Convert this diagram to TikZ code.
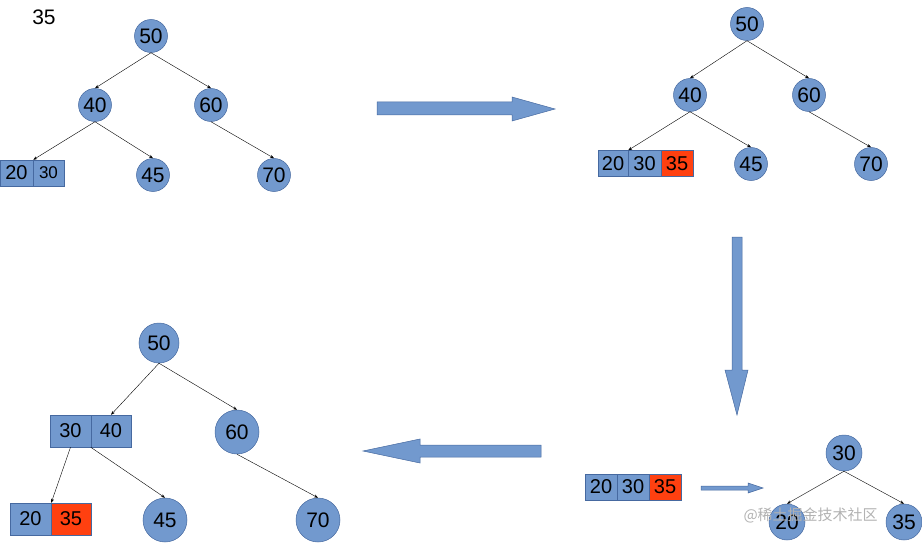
\documentclass[tikz,border=0pt]{standalone}
\usepackage{fontspec}
\setmainfont{Liberation Sans}
\newfontfamily\cjkf{Noto Sans CJK SC}
\usetikzlibrary{arrows.meta}
\definecolor{nb}{RGB}{114,153,206}
\definecolor{nbd}{RGB}{70,105,160}
\definecolor{nr}{RGB}{255,64,16}
\begin{document}
\begin{tikzpicture}[x=1pt,y=-1pt,
 c/.style={circle,fill=nb,draw=nbd,line width=0.5pt,inner sep=0pt,minimum size=#1,font=\fontsize{21}{21}\selectfont},
 c/.default=33pt,
 cell/.style={rectangle,fill=nb,draw=nbd,line width=0.5pt,inner sep=0pt,minimum width=#1,minimum height=26pt,font=\fontsize{20}{20}\selectfont},
 rc/.style={cell=#1,fill=nr},
 e/.style={draw=black,line width=0.4pt,-{Stealth[length=4pt,width=3pt]}},
 big/.style={fill=nb,draw=nbd,line width=0.5pt}]
\useasboundingbox (0,0) rectangle (922,543);
% top-left
\node[font=\fontsize{21}{21}\selectfont] (t) at (44,17) {35};
\node[c] (a50) at (151,36) {50};
\node[c] (a40) at (95,105) {40};
\node[c] (a60) at (211,105) {60};
\node[cell=33pt] (a20) at (16.5,173) {20};
\node[cell=31pt,font=\fontsize{17}{17}\selectfont] (a30) at (48.5,173) {30};
\node[c] (a45) at (153,175) {45};
\node[c] (a70) at (274,175) {70};
\draw[e] (a50.south) -- (a40.north); \draw[e] (a50.south) -- (a60.north);
\draw[e] (a40.south) -- (a20.north east); \draw[e] (a40.south) -- (a45.north);
\draw[e] (a60.south) -- (a70.north);
% arrow right
\draw[big] (377,102) -- (512,102) -- (512,97) -- (555,109) -- (512,121) -- (512,115) -- (377,115) -- cycle;
% top-right
\node[c] (b50) at (747,24) {50};
\node[c] (b40) at (690,95) {40};
\node[c] (b60) at (809,95) {60};
\node[cell=30pt] (b20) at (613,163.5) {20};
\node[cell=33pt] (b30) at (644.5,163.5) {30};
\node[rc=32pt] (b35) at (677,163.5) {35};
\node[c] (b45) at (751,164) {45};
\node[c] (b70) at (871,164) {70};
\draw[e] (b50.south) -- (b40.north); \draw[e] (b50.south) -- (b60.north);
\draw[e] (b40.south) -- (b20.north east); \draw[e] (b40.south) -- (b45.north);
\draw[e] (b60.south) -- (b70.north);
% down arrow
\draw[big] (732,237) -- (742,237) -- (742,370) -- (748,370) -- (737,415) -- (725,370) -- (732,370) -- cycle;
% bottom-right
\node[cell=32pt] (c20) at (601,487) {20};
\node[cell=32pt] (c30) at (633,487) {30};
\node[rc=32pt] (c35) at (665,487) {35};
\draw[big] (701,486) -- (748,486) -- (748,483) -- (763,488) -- (748,493) -- (748,490) -- (701,490) -- cycle;
\node[c=36pt] (d30) at (844,453) {30};
\node[c=36pt] (d20) at (787,522) {20};
\node[c=36pt] (d35) at (904,522) {35};
\draw[e] (d30.south) -- (d20.north); \draw[e] (d30.south) -- (d35.north);
% left arrow
\draw[big] (541,445) -- (420,445) -- (420,439) -- (363,451) -- (420,463) -- (420,457) -- (541,457) -- cycle;
% bottom-left
\node[c=40pt] (e50) at (159,343) {50};
\node[cell=41pt,minimum height=32pt] (e30) at (70.5,431) {30};
\node[cell=40pt,minimum height=32pt] (e40) at (111,431) {40};
\node[c=44pt] (e60) at (237,432) {60};
\node[cell=41pt,minimum height=32pt] (e20) at (30.5,519) {20};
\node[rc=40pt,minimum height=32pt] (e35) at (71,519) {35};
\node[c=44pt] (e45) at (165,520) {45};
\node[c=44pt] (e70) at (318,520) {70};
\draw[e] (e50.south) -- (e40.north); \draw[e] (e50.south) -- (e60.north);
\draw[e] (e30.south) -- (e20.north east); \draw[e] (e40.south west) -- (e45.north);
\draw[e] (e60.south) -- (e70.north);
% watermark
\node[text=black!30,font=\cjkf\fontsize{15}{15}\selectfont,anchor=west] (wm) at (740,515) {@稀土掘金技术社区};
\end{tikzpicture}
\end{document}
